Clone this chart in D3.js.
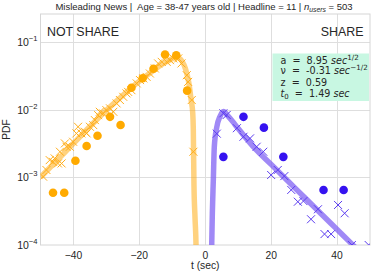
<!DOCTYPE html>
<html>
<head>
<meta charset="utf-8">
<script src="https://cdn.jsdelivr.net/npm/d3@7"></script>
<style>
  body { margin: 0; background: #fff; }
  svg text { font-family: "Liberation Sans", Arial, sans-serif; fill: #262626; white-space: pre; }
  .box text { font-family: "DejaVu Sans", sans-serif; }
</style>
</head>
<body>
<div id="chart"></div>
<script>
// not share side (negative t)
const notShareDotT = [-46.2, -42.8, -39.4, -36.0, -32.7, -28.9, -25.7, -22.4, -19.0, -15.7, -12.2, -8.8, -5.5];
const notShareDotP = [5.9e-4, 5.9e-4, 1.75e-3, 2.9e-3, 4.1e-3, 7.8e-3, 5.9e-3, 0.021, 0.029, 0.040, 0.065, 0.063, 0.019];

const notShareSimT = [-49.2, -48.2, -47.2, -46.2, -45.7, -44.7, -43.6, -44.1, -42.6, -42.1, -41.1, -40.1, -39.1, -38.6,
  -37.6, -36.5, -36.0, -35.0, -34.0, -33.5, -32.5, -32.0, -31.0, -30.0, -28.9, -27.9, -26.9, -25.9, -24.9, -23.9,
  -23.4, -22.4, -20.8, -19.8, -18.8, -17.8, -16.8, -15.3, -14.3, -13.2, -11.7, -10.7, -9.7, -8.2, -7.2, -5.6, -5.2, -4.1, -3.6];
const notShareSimP = [1.02e-3, 1.28e-3, 1.79e-3, 1.69e-3, 1.90e-3, 1.60e-3, 1.60e-3, 2.38e-3, 3.16e-3, 2.82e-3, 2.82e-3,
  3.34e-3, 4.44e-3, 5.56e-3, 4.44e-3, 4.69e-3, 4.44e-3, 5.56e-3, 5.89e-3, 6.98e-3, 8.26e-3, 9.25e-3, 8.75e-3, 9.79e-3,
  1.04e-2, 9.25e-3, 1.23e-2, 1.38e-2, 1.54e-2, 1.73e-2, 1.82e-2, 1.93e-2, 2.43e-2, 2.72e-2, 2.88e-2, 3.03e-2, 3.40e-2,
  4.04e-2, 4.79e-2, 5.05e-2, 5.05e-2, 5.36e-2, 5.68e-2, 5.68e-2, 4.79e-2, 3.21e-2, 2.56e-2, 1.38e-2, 2.38e-3];

const notShareFitT = [-50, -45, -40, -35, -30, -25, -20, -17, -14, -12, -10, -9, -8, -7, -6, -5, -4.3, -3.8, -3.63, -3.42, -3.1, -2.8, -2.7];
const notShareFitP = [1.0e-3, 1.78e-3, 3.16e-3, 5.62e-3, 9.77e-3, 1.62e-2, 2.63e-2, 3.39e-2, 4.37e-2, 5.01e-2, 5.62e-2,
  5.89e-2, 5.75e-2, 5.13e-2, 3.98e-2, 2.51e-2, 1.41e-2, 8.9e-3, 5.25e-3, 7.6e-4, 2.5e-4, 1.0e-4, 5e-5];

// share side (positive t)
const shareDotT = [5.5, 11.6, 17.8, 23.7, 35.9, 42.0];
const shareDotP = [2.0e-3, 7.8e-3, 5.4e-3, 2.0e-3, 6.5e-4, 6.5e-4];

const shareSimT = [3.5, 5.5, 6.5, 9.6, 11.6, 13.6, 15.6, 17.6, 20.0, 22.0, 24.0, 26.1, 28.1, 29.8, 32.1, 34.2, 36.2, 38.2, 40.3, 42.3, 44.5, 49.6];
const shareSimP = [4.4e-3, 8.8e-3, 8.3e-3, 5.3e-3, 3.96e-3, 3.75e-3, 2.82e-3, 2.38e-3, 1.08e-3, 1.28e-3, 1.04e-3,
  6.5e-4, 4.35e-4, 4.45e-4, 2.4e-4, 3.37e-4, 1.45e-4, 1.45e-4, 3.9e-4, 2.94e-4, 1.0e-4, 1.0e-4];

const shareFitT = [1.85, 1.96, 2.15, 2.45, 2.75, 3.5, 4.5, 5.5, 7, 9, 12, 15, 20, 25, 30, 35, 40, 45, 48];
const shareFitP = [5e-5, 1.0e-4, 2.95e-4, 9.1e-4, 2.82e-3, 5.5e-3, 7.94e-3, 9.33e-3, 7.94e-3, 6.03e-3, 3.98e-3,
  2.69e-3, 1.55e-3, 8.9e-4, 5.1e-4, 2.95e-4, 1.70e-4, 9.8e-5, 7.0e-5];

const xTicks = [-40, -20, 0, 20, 40];
const yTickExp = [-4, -3, -2, -1];
const fitLines = ['a  =  8.95 |sec|^1/2', 'ν  =  -0.31 |sec|^−1/2', 'z  =  0.59', 't0 =  1.49 |sec|'];
const fitLineY = [63.5, 74, 85.5, 96.5];

const zip = (ts, ps) => ts.map((t, i) => ({ t, p: ps[i] }));

class FptChart {
  constructor(selector) {
    this.width = 374;
    this.height = 275;
    this.margin = { top: 14, right: 4, bottom: 30, left: 40.5 };
    this.svg = d3.select(selector).append('svg')
      .attr('width', this.width)
      .attr('height', this.height);
  }

  setScales() {
    const m = this.margin;
    this.x = d3.scaleLinear().domain([-50, 50]).range([m.left, this.width - m.right]);
    this.y = d3.scaleLog().domain([1e-4, Math.pow(10, -0.59)]).range([this.height - m.bottom, m.top]);
  }

  drawGrid() {
    const { x, y, svg } = this;
    const [x0, x1] = x.range();
    const [y1, y0] = y.range();
    const grid = svg.append('g').attr('class', 'grid').attr('stroke', '#dedede').attr('stroke-width', 1);
    grid.selectAll('line.v').data(xTicks).join('line')
      .attr('x1', (d) => Math.round(x(d)) + 0.5).attr('x2', (d) => Math.round(x(d)) + 0.5)
      .attr('y1', y0).attr('y2', y1);
    grid.selectAll('line.h').data(yTickExp.filter((e) => e > -4)).join('line')
      .attr('y1', (d) => Math.round(y(Math.pow(10, d))) + 0.5).attr('y2', (d) => Math.round(y(Math.pow(10, d))) + 0.5)
      .attr('x1', x0).attr('x2', x1);
    svg.append('rect')
      .attr('x', x0).attr('y', y0).attr('width', x1 - x0).attr('height', y1 - y0)
      .attr('fill', 'none').attr('stroke', '#d6d6d6');

    this.svg.append('clipPath').attr('id', 'plot-clip')
      .append('rect').attr('x', x0).attr('y', y0).attr('width', x1 - x0).attr('height', y1 - y0);
  }

  drawAxes() {
    const { x, y, svg } = this;
    const bottom = y.range()[0];
    svg.append('g').selectAll('text').data(xTicks).join('text')
      .attr('x', (d) => x(d)).attr('y', bottom + 14)
      .attr('text-anchor', 'middle').attr('font-size', 10.3)
      .text((d) => (d < 0 ? '\u2212' + Math.abs(d) : d));

    const yl = svg.append('g').selectAll('text').data(yTickExp).join('text')
      .attr('x', 37.5).attr('y', (d) => y(Math.pow(10, d)) + 4)
      .attr('text-anchor', 'end').attr('font-size', 10.5);
    yl.append('tspan').text('10');
    yl.append('tspan').attr('dy', -5).attr('font-size', 7.6).text((d) => '\u2212' + Math.abs(d));

    svg.append('text')
      .attr('x', x(0)).attr('y', bottom + 24)
      .attr('text-anchor', 'middle').attr('font-size', 10.3)
      .text('t (sec)');

    svg.append('text')
      .attr('transform', `translate(10,${(y.range()[0] + y.range()[1]) / 2}) rotate(-90)`)
      .attr('text-anchor', 'middle').attr('font-size', 10.3)
      .text('PDF');

    const title = svg.append('text')
      .attr('x', 204).attr('y', 10)
      .attr('text-anchor', 'middle').attr('font-size', 9.5);
    title.append('tspan').text('Misleading News |  Age = 38-47 years old | Headline = 11 | ');
    title.append('tspan').attr('font-style', 'italic').text('n');
    title.append('tspan').attr('font-style', 'italic').attr('font-size', 6.8).attr('dy', 2).text('users');
    title.append('tspan').attr('dy', -2).text(' = 503');
  }

  drawSide(fit, sim, dots, style) {
    const { x, y } = this;
    const plot = this.svg.append('g').attr('clip-path', 'url(#plot-clip)');
    const line = d3.line().x((d) => x(d.t)).y((d) => y(d.p)).curve(d3.curveMonotoneX);

    plot.append('path').datum(fit)
      .attr('d', line)
      .attr('fill', 'none')
      .attr('stroke', style.band)
      .attr('stroke-opacity', style.bandOpacity)
      .attr('stroke-width', 5.5)
      .attr('stroke-linecap', 'butt');

    plot.selectAll('path.sim').data(sim).join('path')
      .attr('class', 'sim')
      .attr('transform', (d) => `translate(${x(d.t)},${y(d.p)})`)
      .attr('d', 'M-4,-4L4,4M-4,4L4,-4')
      .attr('stroke', style.cross)
      .attr('stroke-width', 1)
      .attr('fill', 'none');

    plot.selectAll('circle').data(dots).join('circle')
      .attr('cx', (d) => x(d.t)).attr('cy', (d) => y(d.p))
      .attr('r', 4.3)
      .attr('fill', style.dot);
  }

  drawLabels() {
    const { svg } = this;
    svg.append('text').attr('x', 47).attr('y', 36).attr('font-size', 12.4).text('NOT SHARE');
    svg.append('text').attr('x', 363.5).attr('y', 36).attr('font-size', 12.4).attr('text-anchor', 'end').text('SHARE');

    const box = svg.append('g').attr('class', 'box');
    box.append('rect')
      .attr('x', 272.5).attr('y', 53.5).attr('width', 96.5).attr('height', 47.5)
      .attr('fill', '#c8f7e2');

    const rows = box.selectAll('text').data(fitLines).join('text')
      .attr('x', 280.5).attr('y', (d, i) => fitLineY[i])
      .attr('font-size', 9.6);

    // parse "|sec|^exp" pieces into italic + superscript tspans
    rows.each(function (d) {
      const t = d3.select(this);
      let rest = d;
      if (rest.startsWith('t0')) {
        t.append('tspan').attr('font-style', 'italic').text('t');
        t.append('tspan').attr('font-size', 7).attr('dy', 2).text('0');
        t.append('tspan').attr('dy', -2).text(' ');
        rest = rest.slice(2);
      }
      const parts = rest.split('|');
      t.append('tspan').text(parts[0]);
      if (parts.length > 1) {
        t.append('tspan').attr('font-style', 'italic').text(parts[1]);
        const tail = parts[2] || '';
        if (tail.startsWith('^')) {
          t.append('tspan').attr('font-size', 7.2).attr('dy', -4).text(tail.slice(1));
        }
      }
    });
  }

  draw() {
    this.setScales();
    this.drawGrid();
    this.drawSide(zip(notShareFitT, notShareFitP), zip(notShareSimT, notShareSimP), zip(notShareDotT, notShareDotP),
      { band: '#ffa500', bandOpacity: 0.5, cross: '#ffae1a', dot: '#ffaa00' });
    this.drawSide(zip(shareFitT, shareFitP), zip(shareSimT, shareSimP), zip(shareDotT, shareDotP),
      { band: '#7b5cf2', bandOpacity: 0.72, cross: '#5b3cf0', dot: '#3512f0' });
    this.drawAxes();
    this.drawLabels();
    return this;
  }
}

new FptChart('#chart').draw();
</script>
</body>
</html>
